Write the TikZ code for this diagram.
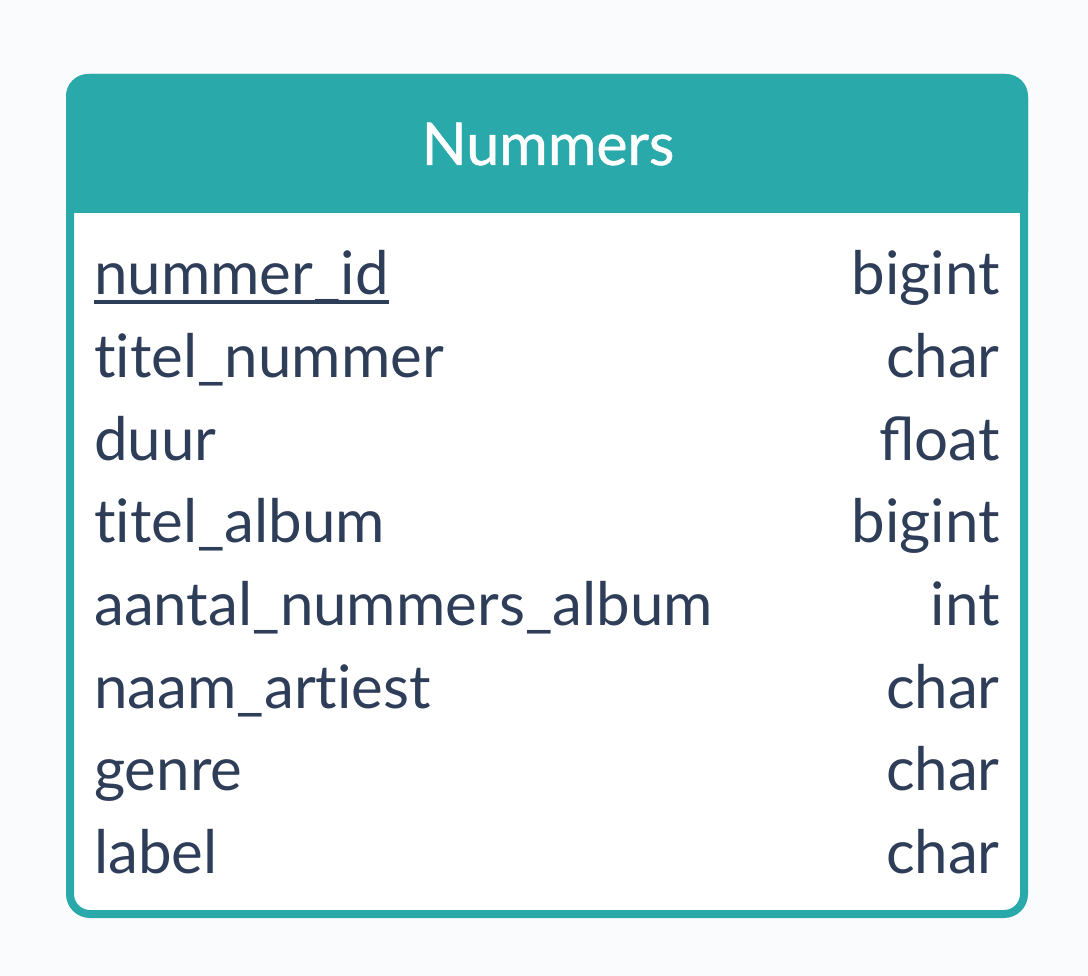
\documentclass[tikz,border=0pt]{standalone}
\usepackage{fontspec}
\setmainfont{Lato}
\newfontfamily\titlefont[FakeBold=0.8]{Lato}
\newcommand{\nti}{t\kern0pt i}
\definecolor{teal}{HTML}{2AA9AA}
\definecolor{ink}{HTML}{2E3D58}
\definecolor{bg}{HTML}{F9FBFC}
\begin{document}
\begin{tikzpicture}[x=1pt,y=-1pt,
  field/.style={anchor=base west,text=ink,font=\fontsize{60}{70}\selectfont,inner sep=0pt},
  ftype/.style={anchor=base east,text=ink,font=\fontsize{60}{70}\selectfont,inner sep=0pt}]
\fill[bg] (0,0) rectangle (1088,976);
\useasboundingbox (0,0) rectangle (1088,976);
% body
\fill[white,rounded corners=22pt] (70,78) rectangle (1024,914);
% header
\fill[teal,rounded corners=22pt] (66,74) -- (1028,74) -- (1028,213) -- (66,213) -- cycle;
\fill[teal] (66,150) rectangle (1028,213);
\draw[teal,line width=8pt,rounded corners=20pt] (70,78) rectangle (1024,914);
\node[anchor=base,text=white,font=\titlefont\fontsize{59}{70}\selectfont,inner sep=0pt] (title) at (548,165) {Nummers};
\foreach \n/\f/\t [count=\i] in {r1/nummer\_id/bigint, r2/{\nti tel\_nummer}/char, r3/duur/float, r4/{\nti tel\_album}/bigint, r5/aantal\_nummers\_album/int, r6/{naam\_ar\nti est}/char, r7/genre/char, r8/label/char}{
  \pgfmathsetmacro\yy{295+82.6*(\i-1)}
  \node[field] (\n f) at (94,\yy) {\f};
  \node[ftype] (\n t) at (1000,\yy) {\t};
}
\draw[ink,line width=3.5pt] ([yshift=-7pt]r1f.base west) -- ([yshift=-7pt]r1f.base east);
\end{tikzpicture}
\end{document}
